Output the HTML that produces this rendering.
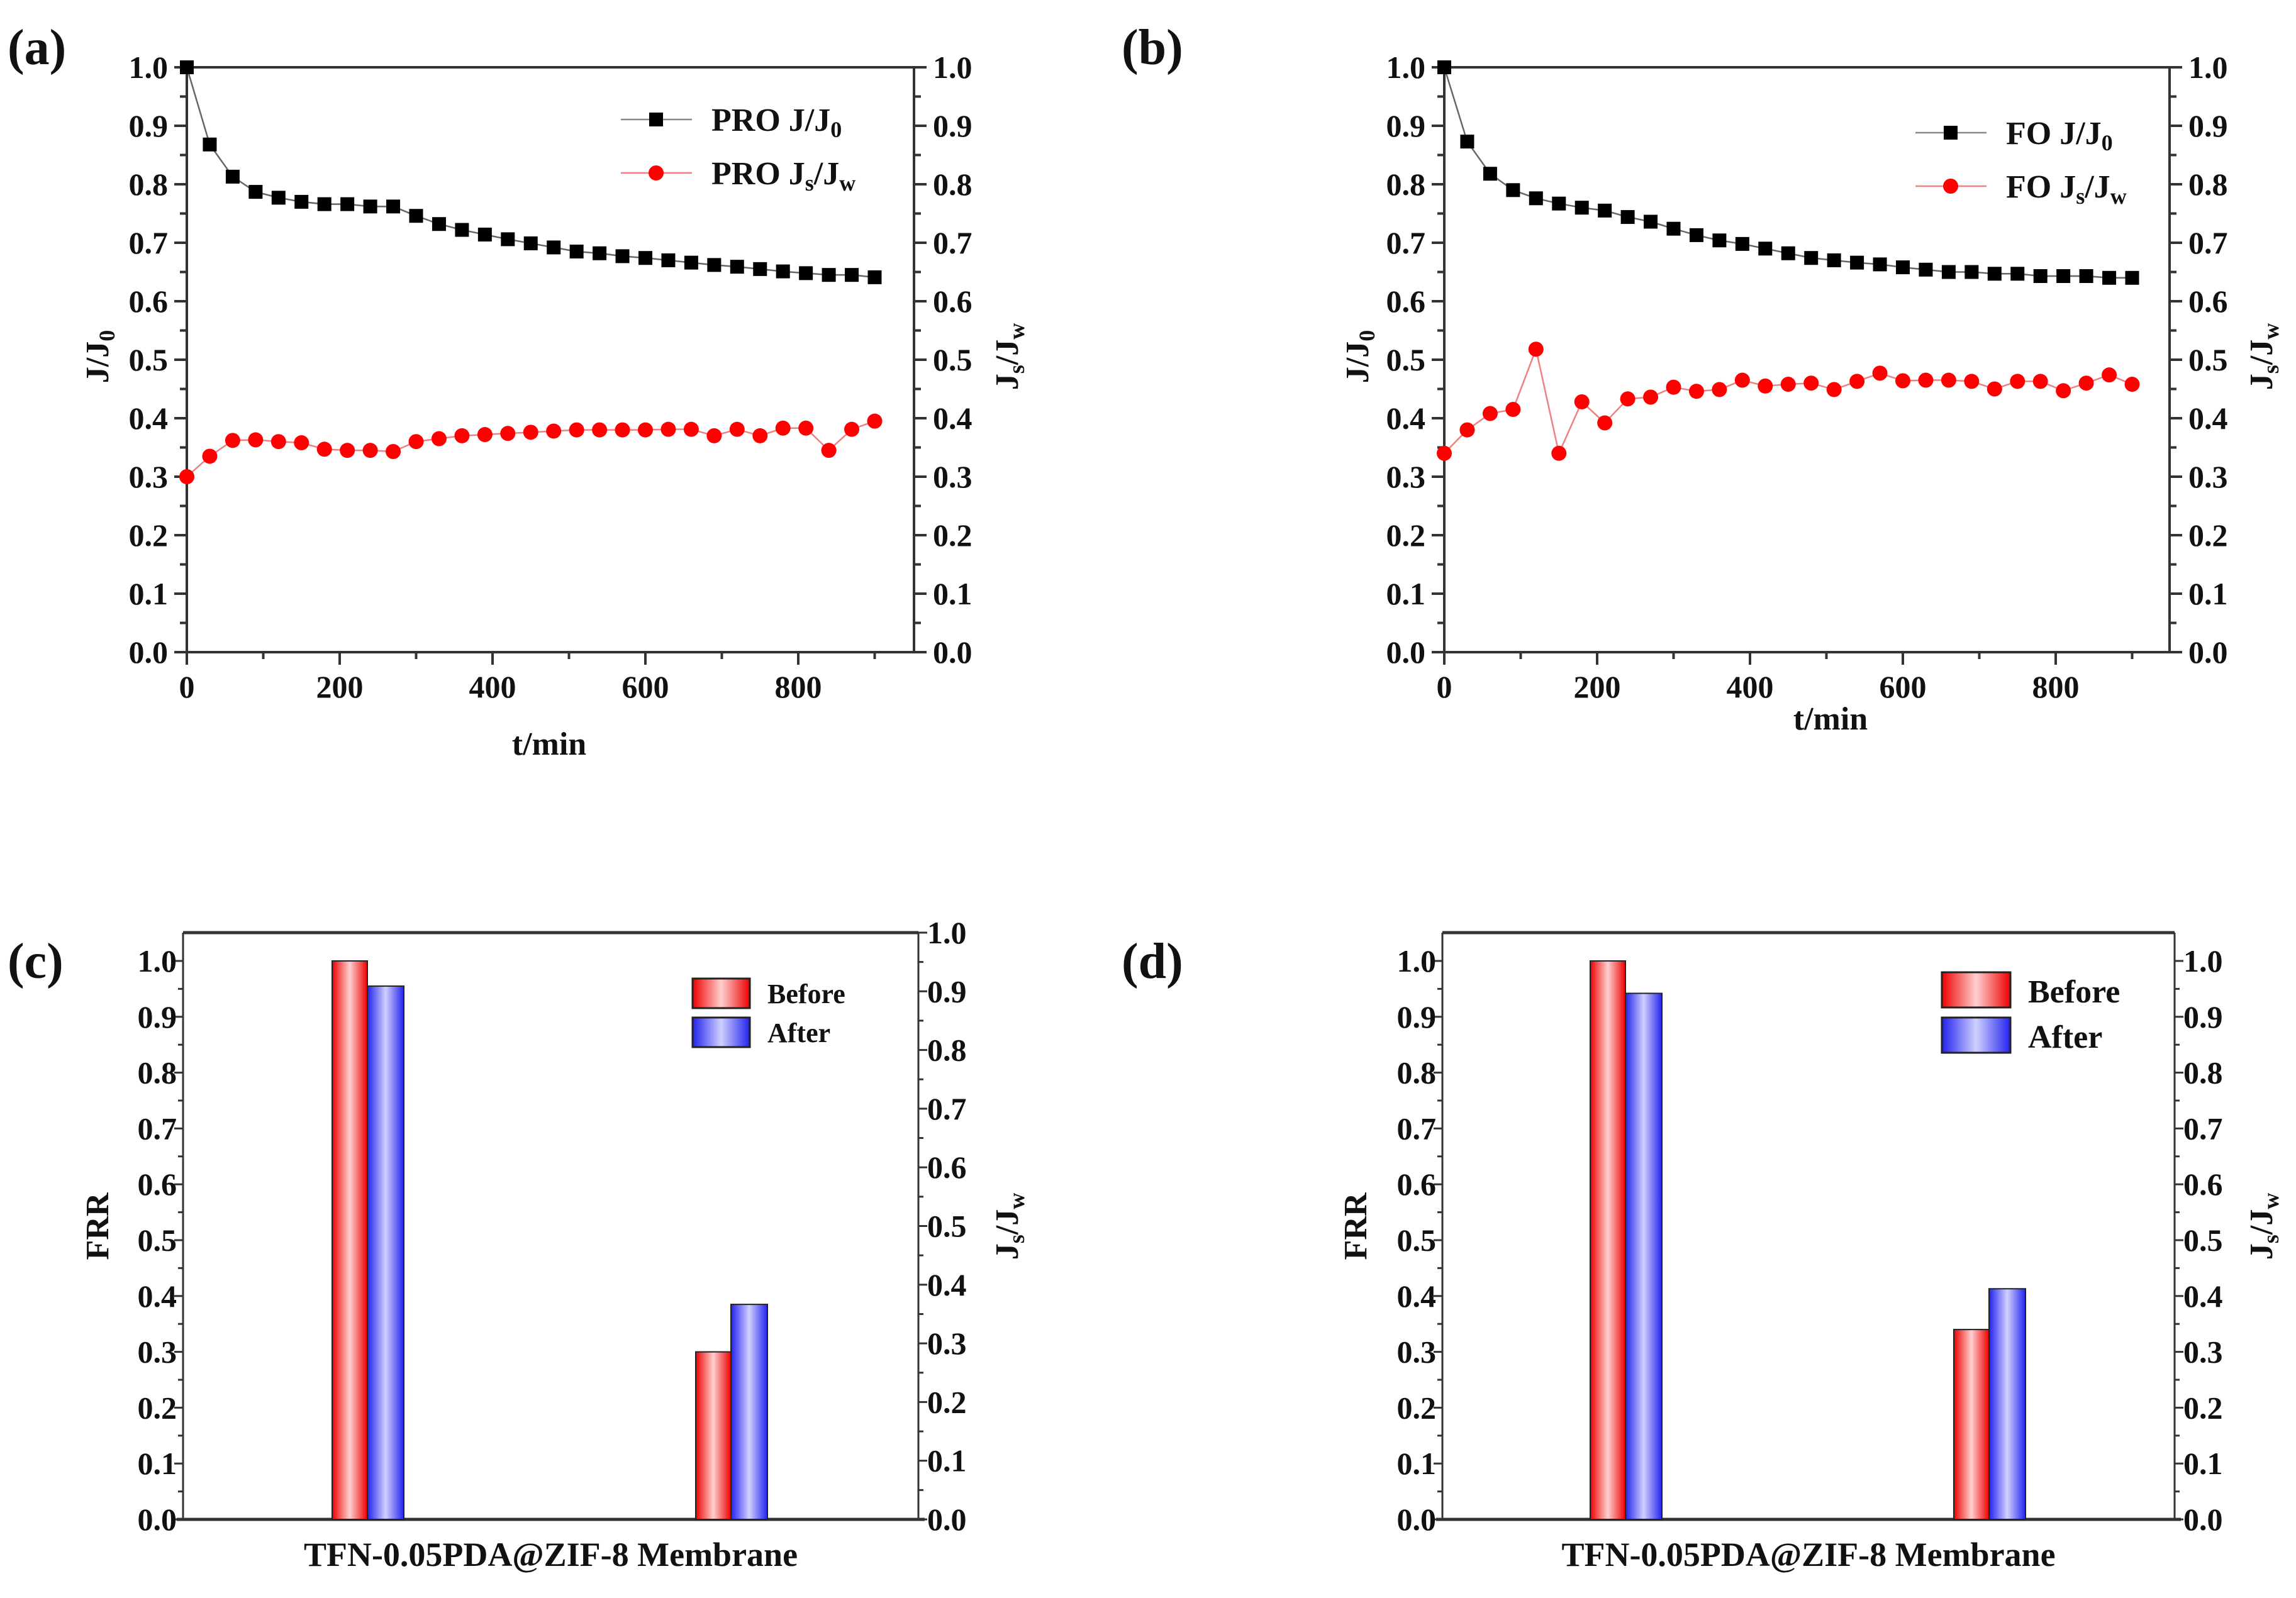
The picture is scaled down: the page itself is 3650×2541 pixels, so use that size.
<!DOCTYPE html>
<html><head><meta charset="utf-8"><style>
html,body{margin:0;padding:0;background:#fff;}
svg{display:block;}
text{font-family:"Liberation Serif",serif;font-weight:bold;fill:#111;}
</style></head><body>
<svg id="fig" width="3650" height="2541" viewBox="0 0 3650 2541" xmlns="http://www.w3.org/2000/svg"></svg>
<script>
const times = [0,30,60,90,120,150,180,210,240,270,300,330,360,390,420,450,480,510,540,570,600,630,660,690,720,750,780,810,840,870,900];
const proJ = [1.0,0.868,0.813,0.787,0.777,0.77,0.766,0.766,0.762,0.762,0.746,0.732,0.722,0.714,0.706,0.699,0.692,0.685,0.682,0.677,0.674,0.67,0.666,0.662,0.659,0.655,0.651,0.648,0.645,0.645,0.641];
const proJs = [0.30,0.335,0.362,0.363,0.36,0.358,0.347,0.345,0.345,0.343,0.36,0.365,0.37,0.372,0.374,0.376,0.378,0.38,0.38,0.38,0.38,0.381,0.381,0.37,0.381,0.37,0.383,0.383,0.345,0.381,0.395];
const foJ = [1.0,0.873,0.818,0.79,0.776,0.767,0.76,0.755,0.744,0.736,0.724,0.713,0.704,0.698,0.69,0.682,0.674,0.67,0.666,0.663,0.658,0.654,0.65,0.65,0.647,0.647,0.643,0.643,0.643,0.64,0.64];
const foJs = [0.34,0.38,0.408,0.415,0.518,0.34,0.428,0.392,0.433,0.436,0.453,0.446,0.449,0.465,0.455,0.458,0.46,0.449,0.463,0.477,0.464,0.465,0.465,0.463,0.45,0.463,0.463,0.447,0.46,0.474,0.458];
const xTicks = [0,200,400,600,800];
const yTicks = [0,0.1,0.2,0.3,0.4,0.5,0.6,0.7,0.8,0.9,1.0];
const barGroups = ["FRR","Js/Jw"];
const cBefore = [1.0,0.30];
const cAfter = [0.955,0.385];
const dBefore = [1.0,0.34];
const dAfter = [0.942,0.413];

const svg = document.getElementById('fig');
const NS = 'http://www.w3.org/2000/svg';
function el(tag, attrs, parent){const e=document.createElementNS(NS,tag);for(const k in attrs)e.setAttribute(k,attrs[k]);(parent||svg).appendChild(e);return e;}
function txt(x,y,s,size,anchor,parent){const t=el('text',{x:x,y:y,'font-size':size,'text-anchor':anchor||'middle'},parent);t.innerHTML=s;return t;}

function lineChart(cfg){
  const g=el('g',{});
  
  
  const L=cfg.L,R=cfg.R,T=107,B=1037;
  const X=v=>L+v*1.215, Y=v=>B-v*(B-T);
  el('rect',{x:L,y:T,width:R-L,height:B-T,fill:'none',stroke:'#333','stroke-width':4},g);
  for(let i=0;i<=20;i++){const v=i*0.05,y=Y(v),len=i%2?11:20;
    el('line',{x1:L-len,y1:y,x2:L,y2:y,stroke:'#333','stroke-width':4},g);
    el('line',{x1:R,y1:y,x2:R+len,y2:y,stroke:'#333','stroke-width':4},g);}
  yTicks.forEach(v=>{const a=txt(L-30,Y(v)+17,v.toFixed(1),50,'end',g);
    const b=txt(R+30,Y(v)+17,v.toFixed(1),50,'start',g);});
  for(let v=0;v<=900;v+=100){const len=v%200?11:20;el('line',{x1:X(v),y1:B,x2:X(v),y2:B+len,stroke:'#333','stroke-width':4},g);}
  xTicks.forEach(v=>{const t=txt(X(v),B+72,v,50,'middle',g);});
  const xt=txt(cfg.xtX,cfg.xtY,'t/min',52,'middle',g);
  const yl=txt(0,0,'J/J<tspan font-size="36" dy="10">0</tspan>',52,'middle',g);yl.setAttribute('transform',`translate(${cfg.ylX},567) rotate(-90)`);
  
  const yr=txt(0,0,'J<tspan font-size="36" dy="10">s</tspan><tspan dy="-10">/J</tspan><tspan font-size="36" dy="10">w</tspan>',52,'middle',g);yr.setAttribute('transform',`translate(${cfg.yrX},567) rotate(-90)`);
  
  const p1=times.map((t,i)=>X(t)+','+Y(cfg.j[i])).join(' ');
  const l1=el('polyline',{points:p1,fill:'none',stroke:'#666','stroke-width':2.5},g);
  const p2=times.map((t,i)=>X(t)+','+Y(cfg.js[i])).join(' ');
  const l2=el('polyline',{points:p2,fill:'none',stroke:'#f08080','stroke-width':2.5},g);
  times.forEach((t,i)=>{const r=el('rect',{x:X(t)-11,y:Y(cfg.j[i])-11,width:22,height:22,fill:'#000'},g);});
  times.forEach((t,i)=>{const c=el('circle',{cx:X(t),cy:Y(cfg.js[i]),r:12,fill:'#f00'},g);});
  const lg=el('g',{},g);
  el('line',{x1:cfg.lgX,y1:cfg.lgY1,x2:cfg.lgX+113,y2:cfg.lgY1,stroke:'#888','stroke-width':2.5},lg);
  el('rect',{x:cfg.lgX+45,y:cfg.lgY1-11,width:22,height:22,fill:'#000'},lg);
  txt(cfg.lgX+144,cfg.lgY1+18,cfg.pre+' J/J<tspan font-size="36" dy="10">0</tspan>',52,'start',lg);
  el('line',{x1:cfg.lgX,y1:cfg.lgY2,x2:cfg.lgX+113,y2:cfg.lgY2,stroke:'#f08080','stroke-width':2.5},lg);
  el('circle',{cx:cfg.lgX+56,cy:cfg.lgY2,r:12,fill:'#f00'},lg);
  txt(cfg.lgX+144,cfg.lgY2+18,cfg.pre+' J<tspan font-size="36" dy="10">s</tspan><tspan dy="-10">/J</tspan><tspan font-size="36" dy="10">w</tspan>',52,'start',lg);
  const pl=txt(cfg.plX,102,cfg.label,80,'start',g);
}
lineChart({name:'panel-a-chart',L:297,R:1453,j:proJ,js:proJs,xtX:873,xtY:1200,ylX:172,yrX:1618,lgX:987,lgY1:190,lgY2:275,pre:'PRO',label:'(a)',plX:12});
lineChart({name:'panel-b-chart',L:2296,R:3449,j:foJ,js:foJs,xtX:2910,xtY:1160,ylX:2175,yrX:3612,lgX:3045,lgY1:211,lgY2:296,pre:'FO',label:'(b)',plX:1783});

function barChart(cfg){
  const g=el('g',{});
  
  
  const L=cfg.L,R=cfg.R,T=1483,B=2416,Y1=1528;
  const Y=v=>B-v*(B-Y1);
  const YR=v=>B-v*(B-cfg.rTop);
  el('line',{x1:L,y1:T,x2:R,y2:T,stroke:'#333','stroke-width':5},g);
  el('line',{x1:L-10,y1:B,x2:R+10,y2:B,stroke:'#333','stroke-width':5},g);
  el('line',{x1:L,y1:T,x2:L,y2:B,stroke:'#333','stroke-width':3},g);
  el('line',{x1:R,y1:T,x2:R,y2:B,stroke:'#333','stroke-width':3},g);
  for(let i=0;i<=20;i++){const v=i*0.05,len=i%2?8:14;
    el('line',{x1:L-len,y1:Y(v),x2:L,y2:Y(v),stroke:'#333','stroke-width':3},g);
    el('line',{x1:R,y1:YR(v),x2:R+len,y2:YR(v),stroke:'#333','stroke-width':3},g);}
  yTicks.forEach(v=>{const a=txt(L-10,Y(v)+17,v.toFixed(1),50,'end',g);
    const b=txt(R+14,YR(v)+17,v.toFixed(1),50,'start',g);});
  const xt=txt((L+R)/2,2490,'TFN-0.05PDA@ZIF-8 Membrane',54,'middle',g);
  const yl=txt(0,0,'FRR',52,'middle',g);yl.setAttribute('transform',`translate(${cfg.ylX},1950) rotate(-90)`);
  const yr=txt(0,0,'J<tspan font-size="36" dy="10">s</tspan><tspan dy="-10">/J</tspan><tspan font-size="36" dy="10">w</tspan>',52,'middle',g);yr.setAttribute('transform',`translate(${cfg.yrX},1950) rotate(-90)`);
  barGroups.forEach((grp,i)=>{
    const x0=cfg.gx[i];
    const b1=el('rect',{x:x0,y:Y(cfg.before[i]),width:56,height:B-Y(cfg.before[i]),fill:'url(#gr)',stroke:'#222','stroke-width':2},g);
    
    const b2=el('rect',{x:x0+56,y:Y(cfg.after[i]),width:58,height:B-Y(cfg.after[i]),fill:'url(#gb)',stroke:'#222','stroke-width':2},g);
    
  });
  const lg=el('g',{},g);
  el('rect',{x:cfg.lgX,y:cfg.lgY1,width:cfg.lgW,height:cfg.lgH,fill:'url(#gr)',stroke:'#222','stroke-width':3},lg);
  el('rect',{x:cfg.lgX,y:cfg.lgY2,width:cfg.lgW,height:cfg.lgH,fill:'url(#gb)',stroke:'#222','stroke-width':3},lg);
  txt(cfg.lgX+cfg.lgW+28,cfg.lgY1+cfg.lgH-8,'Before',cfg.lgF,'start',lg);
  txt(cfg.lgX+cfg.lgW+28,cfg.lgY2+cfg.lgH-8,'After',cfg.lgF,'start',lg);
  const pl=txt(cfg.plX,1555,cfg.label,80,'start',g);
}
const defs=el('defs',{});
defs.innerHTML='<linearGradient id="gr" x1="0" x2="1"><stop offset="0" stop-color="#e00"/><stop offset="0.5" stop-color="#ffd0d0"/><stop offset="1" stop-color="#e00"/></linearGradient><linearGradient id="gb" x1="0" x2="1"><stop offset="0" stop-color="#22e"/><stop offset="0.5" stop-color="#d0d0ff"/><stop offset="1" stop-color="#22e"/></linearGradient>';
barChart({name:'panel-c-chart',L:291,R:1460,before:cBefore,after:cAfter,gx:[528,1106],rTop:1483,ylX:172,yrX:1618,lgX:1101,lgY1:1556,lgY2:1618,lgW:91,lgH:47,lgF:44,label:'(c)',plX:12});
barChart({name:'panel-d-chart',L:2293,R:3457,before:dBefore,after:dAfter,gx:[2528,3106],rTop:1528,ylX:2172,yrX:3612,lgX:3087,lgY1:1546,lgY2:1618,lgW:109,lgH:56,lgF:52,label:'(d)',plX:1783});
</script>
</body></html>
